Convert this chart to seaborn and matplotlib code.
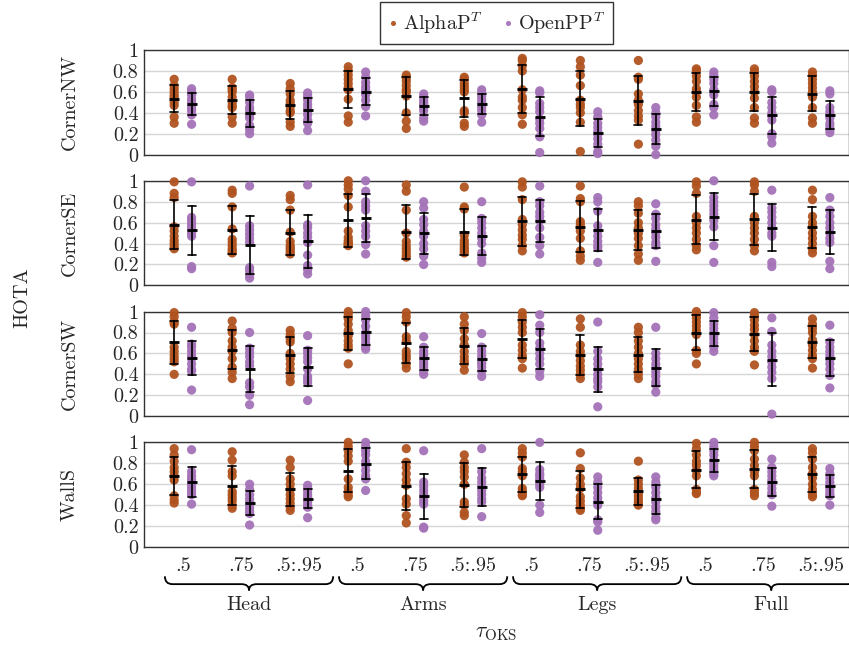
import numpy as np
import pandas as pd
import matplotlib
matplotlib.use("Agg")
import matplotlib.pyplot as plt
import matplotlib.transforms as mtransforms
from matplotlib.path import Path
from matplotlib.patches import PathPatch
import seaborn as sns

# ---- data (HOTA per sequence) ----
rows = ["CornerNW", "CornerSE", "CornerSW", "WallS"]
parts = ["Head", "Arms", "Legs", "Full"]
thresholds = [".5", ".75", ".5:.95"]
methods = ["AlphaP$^{T}$", "OpenPP$^{T}$"]
y_ticks = [0, 0.2, 0.4, 0.6, 0.8, 1]
y_tick_labels = ["0", "0.2", "0.4", "0.6", "0.8", "1"]

nw_alpha = [
    [0.72, 0.66, 0.63, 0.60, 0.57, 0.55, 0.50, 0.47, 0.36, 0.30],
    [0.72, 0.64, 0.62, 0.60, 0.55, 0.50, 0.47, 0.45, 0.36, 0.30],
    [0.68, 0.63, 0.58, 0.52, 0.49, 0.46, 0.42, 0.40, 0.31, 0.27],
    [0.84, 0.80, 0.76, 0.72, 0.68, 0.64, 0.62, 0.53, 0.37, 0.31],
    [0.76, 0.73, 0.70, 0.66, 0.62, 0.60, 0.56, 0.40, 0.32, 0.25],
    [0.74, 0.72, 0.68, 0.65, 0.62, 0.60, 0.42, 0.40, 0.30, 0.27],
    [0.92, 0.90, 0.85, 0.80, 0.62, 0.55, 0.52, 0.45, 0.38, 0.29],
    [0.90, 0.84, 0.76, 0.66, 0.52, 0.48, 0.45, 0.40, 0.31, 0.03],
    [0.90, 0.74, 0.72, 0.58, 0.52, 0.48, 0.42, 0.37, 0.33, 0.10],
    [0.82, 0.80, 0.75, 0.70, 0.63, 0.60, 0.55, 0.47, 0.36, 0.31],
    [0.82, 0.79, 0.75, 0.70, 0.65, 0.60, 0.54, 0.45, 0.35, 0.30],
    [0.79, 0.76, 0.72, 0.68, 0.64, 0.60, 0.55, 0.45, 0.35, 0.30],
]
nw_open = [
    [0.63, 0.60, 0.57, 0.53, 0.50, 0.47, 0.44, 0.42, 0.38, 0.29],
    [0.57, 0.55, 0.50, 0.45, 0.42, 0.38, 0.35, 0.28, 0.24, 0.20],
    [0.59, 0.56, 0.52, 0.48, 0.45, 0.42, 0.38, 0.33, 0.30, 0.23],
    [0.79, 0.74, 0.69, 0.65, 0.62, 0.60, 0.57, 0.52, 0.46, 0.37],
    [0.58, 0.55, 0.52, 0.50, 0.48, 0.47, 0.45, 0.42, 0.35, 0.32],
    [0.62, 0.59, 0.56, 0.53, 0.50, 0.48, 0.45, 0.42, 0.38, 0.31],
    [0.61, 0.59, 0.49, 0.45, 0.41, 0.34, 0.30, 0.25, 0.17, 0.02],
    [0.41, 0.36, 0.30, 0.26, 0.22, 0.19, 0.15, 0.10, 0.03, 0.01],
    [0.45, 0.40, 0.36, 0.31, 0.27, 0.23, 0.19, 0.14, 0.08, 0.00],
    [0.79, 0.76, 0.72, 0.68, 0.62, 0.60, 0.57, 0.48, 0.45, 0.38],
    [0.62, 0.60, 0.50, 0.45, 0.40, 0.37, 0.33, 0.20, 0.17, 0.11],
    [0.61, 0.58, 0.45, 0.41, 0.38, 0.35, 0.30, 0.27, 0.24, 0.21],
]
se_alpha = [
    [0.99, 0.88, 0.84, 0.56, 0.52, 0.47, 0.43, 0.40, 0.37, 0.35],
    [0.91, 0.88, 0.75, 0.54, 0.44, 0.41, 0.38, 0.35, 0.33, 0.31],
    [0.86, 0.82, 0.72, 0.51, 0.42, 0.38, 0.36, 0.34, 0.32, 0.30],
    [1.00, 0.96, 0.92, 0.86, 0.75, 0.52, 0.46, 0.43, 0.41, 0.40, 0.39, 0.38],
    [0.96, 0.90, 0.72, 0.50, 0.42, 0.38, 0.35, 0.32, 0.29, 0.27],
    [0.94, 0.75, 0.73, 0.48, 0.43, 0.40, 0.37, 0.35, 0.33, 0.31],
    [0.99, 0.94, 0.82, 0.63, 0.58, 0.53, 0.48, 0.44, 0.38, 0.33],
    [0.95, 0.83, 0.80, 0.61, 0.58, 0.52, 0.45, 0.33, 0.28, 0.24],
    [0.80, 0.76, 0.69, 0.60, 0.55, 0.50, 0.45, 0.38, 0.30, 0.24],
    [0.99, 0.95, 0.88, 0.66, 0.60, 0.55, 0.50, 0.44, 0.38, 0.34],
    [0.99, 0.96, 0.90, 0.66, 0.60, 0.55, 0.50, 0.44, 0.38, 0.33],
    [0.91, 0.82, 0.66, 0.60, 0.56, 0.50, 0.45, 0.40, 0.35, 0.31],
]
se_open = [
    [0.99, 0.65, 0.62, 0.59, 0.56, 0.53, 0.50, 0.47, 0.18, 0.16],
    [0.95, 0.57, 0.53, 0.49, 0.45, 0.41, 0.17, 0.14, 0.10, 0.07],
    [0.96, 0.58, 0.55, 0.50, 0.46, 0.41, 0.29, 0.19, 0.15, 0.11],
    [1.00, 0.90, 0.80, 0.76, 0.72, 0.57, 0.52, 0.47, 0.39, 0.30],
    [0.80, 0.74, 0.63, 0.58, 0.52, 0.47, 0.40, 0.35, 0.28, 0.20],
    [0.80, 0.64, 0.60, 0.55, 0.50, 0.45, 0.40, 0.31, 0.26, 0.22],
    [0.95, 0.80, 0.76, 0.70, 0.66, 0.62, 0.55, 0.46, 0.38, 0.30],
    [0.84, 0.80, 0.71, 0.57, 0.52, 0.47, 0.42, 0.38, 0.36, 0.22],
    [0.78, 0.68, 0.64, 0.58, 0.54, 0.50, 0.46, 0.41, 0.38, 0.23],
    [1.00, 0.84, 0.80, 0.76, 0.72, 0.68, 0.62, 0.56, 0.38, 0.22],
    [0.91, 0.74, 0.70, 0.65, 0.60, 0.55, 0.50, 0.47, 0.22, 0.18],
    [0.84, 0.72, 0.66, 0.60, 0.55, 0.50, 0.45, 0.41, 0.23, 0.16],
]
sw_alpha = [
    [0.99, 0.95, 0.90, 0.88, 0.66, 0.62, 0.58, 0.55, 0.52, 0.40],
    [0.91, 0.84, 0.80, 0.72, 0.66, 0.62, 0.55, 0.47, 0.42, 0.36],
    [0.82, 0.78, 0.74, 0.71, 0.60, 0.55, 0.50, 0.45, 0.38, 0.33],
    [1.00, 0.97, 0.93, 0.88, 0.82, 0.77, 0.72, 0.68, 0.65, 0.50],
    [0.99, 0.95, 0.90, 0.76, 0.72, 0.62, 0.58, 0.55, 0.50, 0.46],
    [0.95, 0.88, 0.82, 0.74, 0.68, 0.62, 0.57, 0.53, 0.50, 0.44],
    [0.99, 0.95, 0.90, 0.85, 0.80, 0.68, 0.63, 0.58, 0.55, 0.46],
    [0.93, 0.85, 0.68, 0.62, 0.58, 0.53, 0.48, 0.44, 0.40, 0.36],
    [0.85, 0.80, 0.72, 0.66, 0.60, 0.55, 0.50, 0.45, 0.40, 0.36],
    [1.00, 0.97, 0.94, 0.90, 0.86, 0.82, 0.78, 0.63, 0.60, 0.50],
    [0.99, 0.96, 0.92, 0.87, 0.83, 0.78, 0.72, 0.66, 0.62, 0.49],
    [0.93, 0.88, 0.84, 0.80, 0.73, 0.68, 0.63, 0.58, 0.55, 0.46],
]
sw_open = [
    [0.85, 0.69, 0.66, 0.62, 0.58, 0.55, 0.50, 0.45, 0.43, 0.25],
    [0.80, 0.65, 0.61, 0.57, 0.52, 0.48, 0.32, 0.28, 0.20, 0.11],
    [0.77, 0.63, 0.60, 0.56, 0.52, 0.45, 0.38, 0.35, 0.32, 0.15],
    [1.00, 0.96, 0.92, 0.86, 0.80, 0.77, 0.74, 0.70, 0.66, 0.64],
    [0.76, 0.66, 0.62, 0.59, 0.56, 0.53, 0.50, 0.47, 0.43, 0.40],
    [0.79, 0.66, 0.62, 0.58, 0.55, 0.52, 0.50, 0.47, 0.43, 0.38],
    [0.97, 0.87, 0.80, 0.70, 0.65, 0.60, 0.55, 0.50, 0.43, 0.38],
    [0.90, 0.62, 0.55, 0.50, 0.45, 0.40, 0.36, 0.33, 0.28, 0.09],
    [0.85, 0.60, 0.55, 0.50, 0.46, 0.42, 0.38, 0.33, 0.30, 0.23],
    [0.99, 0.94, 0.88, 0.84, 0.80, 0.77, 0.74, 0.70, 0.66, 0.62],
    [0.94, 0.81, 0.68, 0.62, 0.57, 0.52, 0.47, 0.42, 0.36, 0.02],
    [0.87, 0.71, 0.66, 0.62, 0.58, 0.54, 0.50, 0.45, 0.39, 0.27],
]
ws_alpha = [
    [0.94, 0.88, 0.82, 0.76, 0.72, 0.68, 0.64, 0.49, 0.45, 0.42],
    [0.91, 0.83, 0.72, 0.68, 0.53, 0.50, 0.47, 0.44, 0.40, 0.37],
    [0.83, 0.76, 0.65, 0.60, 0.55, 0.50, 0.46, 0.42, 0.38, 0.35],
    [1.00, 0.96, 0.92, 0.87, 0.82, 0.65, 0.57, 0.53, 0.50, 0.48],
    [0.94, 0.81, 0.76, 0.70, 0.64, 0.59, 0.46, 0.41, 0.30, 0.23],
    [0.88, 0.81, 0.76, 0.72, 0.67, 0.60, 0.43, 0.40, 0.33, 0.30],
    [0.94, 0.90, 0.86, 0.75, 0.72, 0.68, 0.56, 0.53, 0.50, 0.49],
    [0.90, 0.75, 0.66, 0.60, 0.56, 0.48, 0.44, 0.40, 0.37, 0.35],
    [0.82, 0.64, 0.60, 0.56, 0.52, 0.49, 0.46, 0.43, 0.41, 0.40],
    [0.99, 0.94, 0.88, 0.82, 0.78, 0.73, 0.68, 0.55, 0.52, 0.51],
    [1.00, 0.96, 0.92, 0.84, 0.78, 0.72, 0.68, 0.55, 0.52, 0.49],
    [0.94, 0.90, 0.84, 0.76, 0.70, 0.66, 0.60, 0.55, 0.50, 0.48],
]
ws_open = [
    [0.93, 0.72, 0.68, 0.65, 0.62, 0.59, 0.56, 0.53, 0.50, 0.41],
    [0.60, 0.55, 0.50, 0.46, 0.43, 0.40, 0.37, 0.34, 0.32, 0.21],
    [0.59, 0.56, 0.53, 0.50, 0.48, 0.46, 0.43, 0.40, 0.38, 0.28],
    [1.00, 0.96, 0.92, 0.88, 0.82, 0.78, 0.73, 0.68, 0.65, 0.54],
    [0.92, 0.62, 0.58, 0.54, 0.50, 0.47, 0.44, 0.41, 0.19, 0.18],
    [0.94, 0.72, 0.66, 0.62, 0.58, 0.54, 0.50, 0.46, 0.43, 0.29],
    [1.00, 0.74, 0.70, 0.68, 0.65, 0.63, 0.60, 0.57, 0.40, 0.33],
    [0.67, 0.62, 0.57, 0.52, 0.47, 0.43, 0.40, 0.26, 0.24, 0.16],
    [0.67, 0.62, 0.57, 0.52, 0.47, 0.43, 0.38, 0.34, 0.28, 0.26],
    [1.00, 0.96, 0.92, 0.88, 0.83, 0.80, 0.77, 0.74, 0.70, 0.68],
    [0.84, 0.76, 0.72, 0.68, 0.64, 0.60, 0.56, 0.52, 0.50, 0.39],
    [0.75, 0.70, 0.66, 0.62, 0.59, 0.56, 0.53, 0.50, 0.49, 0.40],
]

series = {
    "CornerNW": (nw_alpha, nw_open),
    "CornerSE": (se_alpha, se_open),
    "CornerSW": (sw_alpha, sw_open),
    "WallS": (ws_alpha, ws_open),
}

# long-form table
dodge = {methods[0]: -0.15, methods[1]: 0.15}
records = []
for row in rows:
    for method, groups in zip(methods, series[row]):
        for g, vals in enumerate(groups):
            for v in vals:
                records.append({"row": row, "method": method, "group": g,
                                "x": g + dodge[method], "hota": v})
df = pd.DataFrame(records)

# ---- style ----
sns.set_theme(style="white")
plt.rcParams["font.family"] = ["cmr10", "DejaVu Serif"]
plt.rcParams["mathtext.fontset"] = "cm"
plt.rcParams["axes.formatter.use_mathtext"] = True
palette = {methods[0]: "#B0531F", methods[1]: "#A473B8"}
fs = 14.5

fig, axes = plt.subplots(4, 1, figsize=(8.49, 6.52), dpi=100, sharex=True)
fig.subplots_adjust(left=144 / 849, right=1.0, top=1 - 50 / 652,
                    bottom=1 - 547 / 652, hspace=0.25)

for i, (ax, row) in enumerate(zip(axes, rows)):
    sub = df[df["row"] == row]
    sns.scatterplot(data=sub, x="x", y="hota", hue="method", hue_order=methods,
                    palette=palette, s=44, linewidth=0, alpha=0.95,
                    clip_on=False, zorder=3, legend=(i == 0), ax=ax)
    sns.pointplot(data=sub, x="x", y="hota", hue="method", hue_order=methods,
                  native_scale=True, errorbar="sd", markers="_", markersize=7,
                  linestyle="none", palette={m: "black" for m in methods},
                  capsize=0.46, err_kws={"linewidth": 1.2}, legend=False,
                  zorder=4, ax=ax)
    ax.set_ylim(0, 1)
    ax.set_xlim(-0.67, 11.48)
    ax.set_yticks(y_ticks)
    ax.set_yticklabels(y_tick_labels)
    ax.yaxis.grid(True, color="#d6d6d6", linewidth=1)
    ax.set_axisbelow(True)
    ax.tick_params(axis="both", length=0, labelsize=fs)
    ax.tick_params(axis="y", pad=4)
    for sp in ax.spines.values():
        sp.set_color("#333333")
        sp.set_linewidth(1.0)
    ax.set_xlabel("")
    ax.set_ylabel(row, fontsize=fs)
    ax.yaxis.set_label_coords(-0.093, 0.5)

# legend on top
sns.move_legend(axes[0], "lower center", bbox_to_anchor=(0.5, 1.0), ncol=2,
                title=None, frameon=True, fontsize=fs, borderaxespad=0.3,
                handletextpad=0.25, handlelength=0.5, columnspacing=1.0,
                borderpad=0.4, markerscale=0.55, fancybox=False,
                edgecolor="#333333", framealpha=1)

# bottom axis: threshold ticks, braces and body-part labels
bax = axes[-1]
bax.set_xticks(range(len(parts) * len(thresholds)))
bax.set_xticklabels(thresholds * len(parts))
bax.tick_params(axis="x", pad=7)
trans = mtransforms.blended_transform_factory(bax.transData, bax.transAxes)
y_top, y_mid, y_tip = -0.28, -0.355, -0.415
r = 0.13
for k, part in enumerate(parts):
    x0 = 3 * k - 0.31
    x1 = 3 * k + 2.59
    xc = (x0 + x1) / 2
    verts = [(x0, y_top), (x0, y_mid), (x0 + r, y_mid),
             (xc - r, y_mid), (xc, y_mid), (xc, y_tip),
             (xc, y_mid), (xc + r, y_mid),
             (x1 - r, y_mid), (x1, y_mid), (x1, y_top)]
    codes = [Path.MOVETO, Path.CURVE3, Path.CURVE3,
             Path.LINETO, Path.CURVE3, Path.CURVE3,
             Path.CURVE3, Path.CURVE3,
             Path.LINETO, Path.CURVE3, Path.CURVE3]
    bax.add_patch(PathPatch(Path(verts, codes), transform=trans, fill=False,
                            lw=1.3, edgecolor="black", clip_on=False))
    bax.text(xc, -0.55, part, transform=trans, ha="center", va="center",
             fontsize=fs)

bax.set_xlabel(r"$\tau_{\mathrm{OKS}}$", fontsize=fs + 1)
bax.xaxis.set_label_coords(0.5, -0.73)

fig.text(22 / 849, 1 - 298 / 652, "HOTA", rotation=90, ha="center",
         va="center", fontsize=fs)

fig.savefig("out.png", dpi=100)
